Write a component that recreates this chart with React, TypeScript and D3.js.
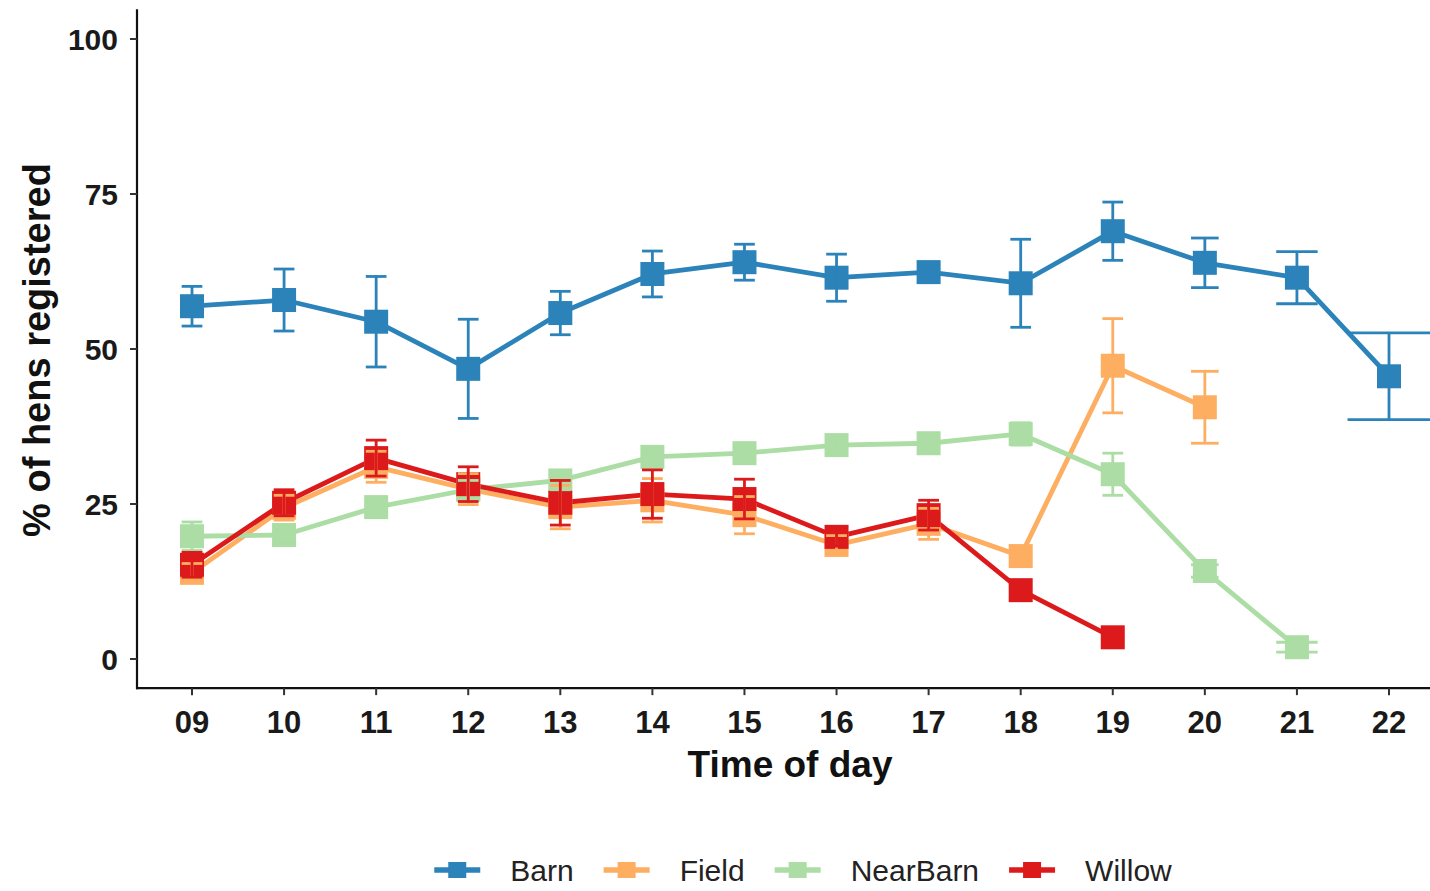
import React, { useEffect, useRef } from "react";
import * as d3 from "d3";

// values (mean and +/- error, % of hens)
const hours = ["09", "10", "11", "12", "13", "14", "15", "16", "17", "18", "19", "20", "21", "22"];
const seriesNames = ["Barn", "Field", "NearBarn", "Willow"];
const seriesColors = ["#2b83ba", "#fdae61", "#abdda4", "#dc1a1c"];

const barnMean = [56.9, 57.9, 54.4, 46.8, 55.8, 62.1, 64.0, 61.5, 62.4, 60.6, 69.0, 63.9, 61.5, 45.6];
const barnErr = [3.2, 5.0, 7.3, 8.0, 3.5, 3.7, 2.9, 3.8, 0.8, 7.1, 4.7, 4.0, 4.2, 7.0];
const fieldMean = [13.9, 24.4, 31.0, 27.4, 24.5, 25.6, 23.2, 18.4, 21.8, 16.6, 47.3, 40.6, null, null];
const fieldErr = [1.5, 2.0, 2.5, 2.5, 3.5, 3.5, 3.0, 1.5, 2.5, 0.5, 7.6, 5.8, null, null];
const nearBarnMean = [19.8, 20.0, 24.5, 27.3, 28.8, 32.6, 33.2, 34.5, 34.8, 36.3, 29.8, 14.2, 1.9, null];
const nearBarnErr = [2.3, 1.2, 1.5, 1.5, 1.5, 1.2, 1.0, 1.0, 1.5, 1.8, 3.4, 1.0, 0.8, null];
const willowMean = [15.2, 25.2, 32.4, 28.2, 25.2, 26.6, 25.8, 19.7, 23.2, 11.1, 3.5, null, null, null];
const willowErr = [2.0, 2.1, 2.9, 2.8, 3.6, 3.9, 3.2, 1.5, 2.4, 0, 0, null, null, null];

const yTicks = [0, 25, 50, 75, 100];

type Pt = { hour: string; mean: number; err: number; n: number };

export default function App() {
  const ref = useRef<SVGSVGElement>(null);

  useEffect(() => {
    const width = 1430;
    const svg = d3.select(ref.current);
    svg.selectAll("*").remove();

    const font = "'Liberation Sans', Arial, Helvetica, sans-serif";

    const x = d3.scalePoint<string>().domain(hours).range([192, 1389]);
    const y = d3.scaleLinear().domain([0, 100]).range([659, 39]);
    const step = x.step();

    const means = [barnMean, fieldMean, nearBarnMean, willowMean];
    const errs = [barnErr, fieldErr, nearBarnErr, willowErr];

    // how many groups share each hour (dodge shrinks the errorbar width)
    const groupsAt = hours.map((_, i) => means.filter(m => m[i] != null).length);

    const series = seriesNames.map((name, s) => ({
      name,
      color: seriesColors[s],
      points: hours
        .map((h, i) => ({ hour: h, mean: means[s][i] as number, err: errs[s][i] as number, n: groupsAt[i] }))
        .filter(p => p.mean != null) as Pt[],
    }));

    // axes
    const yTop = y(104.8);
    const yBottom = y(-4.7);
    const xLeft = 137;

    svg.append("line")
      .attr("x1", xLeft).attr("x2", xLeft)
      .attr("y1", yTop).attr("y2", yBottom + 1)
      .attr("stroke", "#111").attr("stroke-width", 2.2);
    svg.append("line")
      .attr("x1", xLeft - 1).attr("x2", width)
      .attr("y1", yBottom).attr("y2", yBottom)
      .attr("stroke", "#111").attr("stroke-width", 2.2);

    const yt = svg.append("g");
    yTicks.forEach(t => {
      yt.append("line")
        .attr("x1", xLeft - 7).attr("x2", xLeft)
        .attr("y1", y(t)).attr("y2", y(t))
        .attr("stroke", "#333").attr("stroke-width", 2);
      yt.append("text")
        .attr("x", xLeft - 19).attr("y", y(t))
        .attr("dy", "0.36em")
        .attr("text-anchor", "end")
        .attr("font-family", font).attr("font-weight", "bold")
        .attr("font-size", 30).attr("fill", "#1a1a1a")
        .text(t);
    });

    const xt = svg.append("g");
    hours.forEach(h => {
      xt.append("line")
        .attr("x1", x(h)!).attr("x2", x(h)!)
        .attr("y1", yBottom).attr("y2", yBottom + 7)
        .attr("stroke", "#333").attr("stroke-width", 2);
      xt.append("text")
        .attr("x", x(h)!).attr("y", 733)
        .attr("text-anchor", "middle")
        .attr("font-family", font).attr("font-weight", "bold")
        .attr("font-size", 31).attr("fill", "#1a1a1a")
        .text(h);
    });

    svg.append("text")
      .attr("x", 790).attr("y", 777)
      .attr("text-anchor", "middle")
      .attr("font-family", font).attr("font-weight", "bold")
      .attr("font-size", 37).attr("fill", "#111")
      .text("Time of day");

    svg.append("text")
      .attr("transform", "translate(50,350) rotate(-90)")
      .attr("text-anchor", "middle")
      .attr("font-family", font).attr("font-weight", "bold")
      .attr("font-size", 38).attr("fill", "#111")
      .text("% of hens registered");

    const line = d3.line<Pt>()
      .x(d => x(d.hour)!)
      .y(d => y(d.mean));

    const sq = 24;

    // lines first
    series.forEach(s => {
      svg.append("path")
        .datum(s.points)
        .attr("fill", "none")
        .attr("stroke", s.color)
        .attr("stroke-width", 4.8)
        .attr("stroke-linejoin", "round")
        .attr("d", line);
    });

    // then the square points
    series.forEach(s => {
      svg.append("g").selectAll("rect")
        .data(s.points)
        .join("rect")
        .attr("x", d => x(d.hour)! - sq / 2)
        .attr("y", d => y(d.mean) - sq / 2)
        .attr("width", sq).attr("height", sq)
        .attr("fill", s.color);
    });

    // error bars on top
    series.forEach(s => {
      const g = svg.append("g")
        .attr("stroke", s.color)
        .attr("stroke-width", 2.8)
        .attr("fill", "none");
      s.points.filter(d => d.err > 0).forEach(d => {
        const cx = x(d.hour)!;
        const hw = (0.45 * step) / d.n;
        const y1 = y(d.mean + d.err);
        const y2 = y(d.mean - d.err);
        g.append("line").attr("x1", cx).attr("x2", cx).attr("y1", y1).attr("y2", y2);
        g.append("line").attr("x1", cx - hw).attr("x2", cx + hw).attr("y1", y1).attr("y2", y1);
        g.append("line").attr("x1", cx - hw).attr("x2", cx + hw).attr("y1", y2).attr("y2", y2);
      });
    });

    // legend along the bottom
    const legend = svg.append("g");
    const keyW = 46;
    const gapText = 30;
    const gapItem = 30;
    let cursor = 0;
    series.forEach(s => {
      const g = legend.append("g");
      g.append("line")
        .attr("x1", 0).attr("x2", keyW)
        .attr("y1", 0).attr("y2", 0)
        .attr("stroke", s.color).attr("stroke-width", 5.5);
      g.append("rect")
        .attr("x", keyW / 2 - 9).attr("y", -8)
        .attr("width", 18).attr("height", 16)
        .attr("fill", s.color);
      const t = g.append("text")
        .attr("x", keyW + gapText).attr("y", 0)
        .attr("dy", "0.36em")
        .attr("font-family", font)
        .attr("font-size", 30).attr("fill", "#222")
        .text(s.name);
      const tw = (t.node() as SVGTextElement).getComputedTextLength();
      g.attr("transform", `translate(${cursor},870)`);
      cursor += keyW + gapText + tw + gapItem;
    });
    const total = cursor - gapItem;
    legend.attr("transform", `translate(${803 - total / 2},0)`);
  }, []);

  return (
    <svg
      ref={ref}
      width={1430}
      height={891}
      style={{ position: "absolute", left: 0, top: 0, background: "#fff" }}
    />
  );
}
